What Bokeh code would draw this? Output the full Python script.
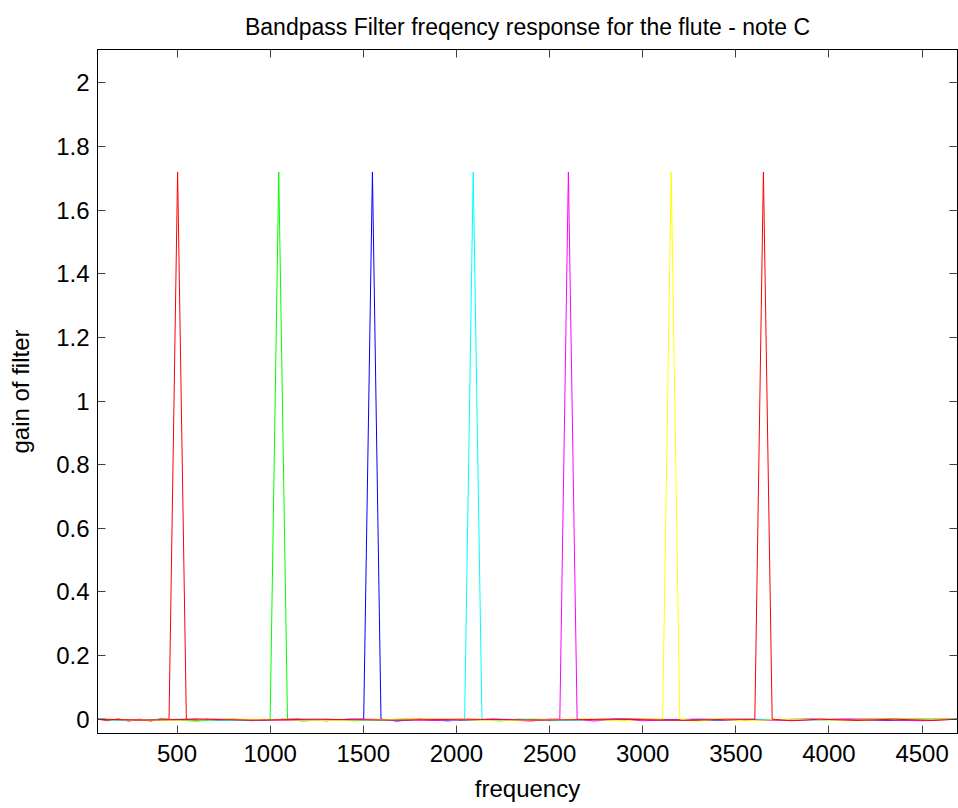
from bokeh.plotting import figure
from bokeh.models import Range1d, LinearAxis, FixedTicker
from bokeh.embed import file_html
from bokeh.resources import INLINE

# ---- data ----
x_ticks = [500, 1000, 1500, 2000, 2500, 3000, 3500, 4000, 4500]
y_ticks = [0, 0.2, 0.4, 0.6, 0.8, 1, 1.2, 1.4, 1.6, 1.8, 2]
y_tick_labels = ["0", "0.2", "0.4", "0.6", "0.8", "1", "1.2", "1.4", "1.6", "1.8", "2"]

freq_h1 = [73, 130, 185, 240, 300, 360, 410, 457, 503, 550, 600, 660, 720, 800, 900, 1100, 1400, 1800, 2300, 2900, 3500, 4100, 4690]
gain_h1 = [0, -0.005, 0.001, -0.006, 0, -0.006, 0.001, 0, 1.72, 0, -0.005, 0, -0.004, 0, -0.003, 0, -0.003, 0, -0.002, 0, -0.002, 0, 0]

freq_h2 = [73, 250, 420, 600, 780, 900, 1000, 1046, 1093, 1180, 1300, 1450, 1700, 2000, 2400, 2800, 3300, 3800, 4300, 4690]
gain_h2 = [0, -0.004, 0, -0.006, 0, -0.005, 0, 1.72, 0, -0.006, 0, -0.005, 0, -0.003, 0, -0.003, 0, -0.002, 0, 0]

freq_h3 = [73, 300, 600, 900, 1150, 1300, 1420, 1502, 1549, 1595, 1680, 1800, 1950, 2200, 2500, 2900, 3400, 3900, 4300, 4690]
gain_h3 = [0, -0.003, 0, -0.004, 0, -0.005, 0, 0, 1.72, 0, -0.006, 0, -0.005, 0, -0.003, 0, -0.003, 0, -0.004, 0]

freq_h4 = [73, 200, 500, 800, 1200, 1600, 1850, 1950, 2044, 2090, 2137, 2230, 2330, 2500, 2800, 3200, 3600, 4000, 4400, 4690]
gain_h4 = [0, -0.004, 0, -0.004, 0, -0.004, 0, -0.006, 0, 1.72, 0, -0.006, 0, -0.005, 0, -0.003, 0, -0.003, 0, 0]

freq_h5 = [73, 350, 700, 1100, 1500, 1900, 2200, 2400, 2500, 2555, 2601, 2648, 2740, 2850, 3000, 3300, 3700, 4100, 4500, 4690]
gain_h5 = [0, -0.004, 0, -0.004, 0, -0.004, 0, -0.006, 0, 0, 1.72, 0, -0.006, 0, -0.005, 0, -0.004, 0, -0.005, 0]

freq_h6 = [73, 400, 800, 1300, 1800, 2300, 2700, 2900, 3010, 3107, 3153, 3199, 3290, 3400, 3550, 3800, 4100, 4400, 4690]
gain_h6 = [0, -0.004, 0, -0.004, 0, -0.004, 0, -0.005, 0, 0, 1.72, 0, -0.006, 0, -0.005, 0, -0.004, 0, 0]

freq_h7 = [73, 330, 620, 900, 1250, 1650, 2050, 2450, 2850, 3250, 3450, 3602, 3648, 3695, 3800, 3950, 4150, 4350, 4550, 4690]
gain_h7 = [0, -0.003, 0, -0.003, 0, -0.003, 0, -0.003, 0, -0.004, 0, 0, 1.72, 0, -0.005, 0, -0.004, 0, -0.004, 0]

series = [
    (freq_h1, gain_h1, "#FF0000"),
    (freq_h2, gain_h2, "#00FF00"),
    (freq_h3, gain_h3, "#0000FF"),
    (freq_h4, gain_h4, "#00FFFF"),
    (freq_h5, gain_h5, "#FF00FF"),
    (freq_h6, gain_h6, "#FFFF00"),
    (freq_h7, gain_h7, "#FF0000"),
]

FONT = "Liberation Sans"
TICK_SIZE = "24px"
LABEL_SIZE = "24px"

p = figure(width=958, height=808, output_backend="svg", toolbar_location=None,
           x_range=Range1d(73, 4690), y_range=Range1d(-0.045, 2.105),
           title="Bandpass Filter freqency response for the flute - note C",
           min_border_left=97, min_border_right=1, min_border_top=49, min_border_bottom=75)

p.title.align = "center"
p.title.text_font = FONT
p.title.text_font_style = "normal"
p.title.text_font_size = "23px"
p.title.text_color = "black"
p.title.standoff = 20

p.grid.visible = False
p.outline_line_color = "black"
p.outline_line_width = 1
p.background_fill_color = "white"
p.border_fill_color = "white"

for xs, ys, c in series:
    p.line(xs, ys, line_color=c, line_width=1)

def style_axis(ax, show_labels):
    ax.ticker = FixedTicker(ticks=[])
    ax.axis_line_color = "black"
    ax.axis_line_width = 1
    ax.major_tick_in = 8
    ax.major_tick_out = 0
    ax.minor_tick_in = 0
    ax.minor_tick_out = 0
    ax.major_tick_line_color = "#404040"
    ax.major_label_text_font = FONT
    ax.major_label_text_font_size = TICK_SIZE if show_labels else "0px"
    ax.major_label_text_color = "black"
    ax.axis_label_text_font = FONT
    ax.axis_label_text_font_size = LABEL_SIZE
    ax.axis_label_text_font_style = "normal"
    ax.axis_label_text_color = "black"

xa = p.xaxis[0]
style_axis(xa, True)
xa.ticker = FixedTicker(ticks=x_ticks)
xa.axis_label = "frequency"
xa.major_label_standoff = 11
xa.axis_label_standoff = 10

ya = p.yaxis[0]
style_axis(ya, True)
ya.ticker = FixedTicker(ticks=y_ticks)
ya.major_label_overrides = {t: s for t, s in zip(y_ticks, y_tick_labels)}
ya.axis_label = "gain of filter"
ya.major_label_standoff = 8
ya.axis_label_standoff = 19

top = LinearAxis()
style_axis(top, False)
top.ticker = FixedTicker(ticks=x_ticks)
p.add_layout(top, "above")

right = LinearAxis()
style_axis(right, False)
right.ticker = FixedTicker(ticks=y_ticks)
p.add_layout(right, "right")

open("out.html", "w").write(file_html(p, INLINE))
